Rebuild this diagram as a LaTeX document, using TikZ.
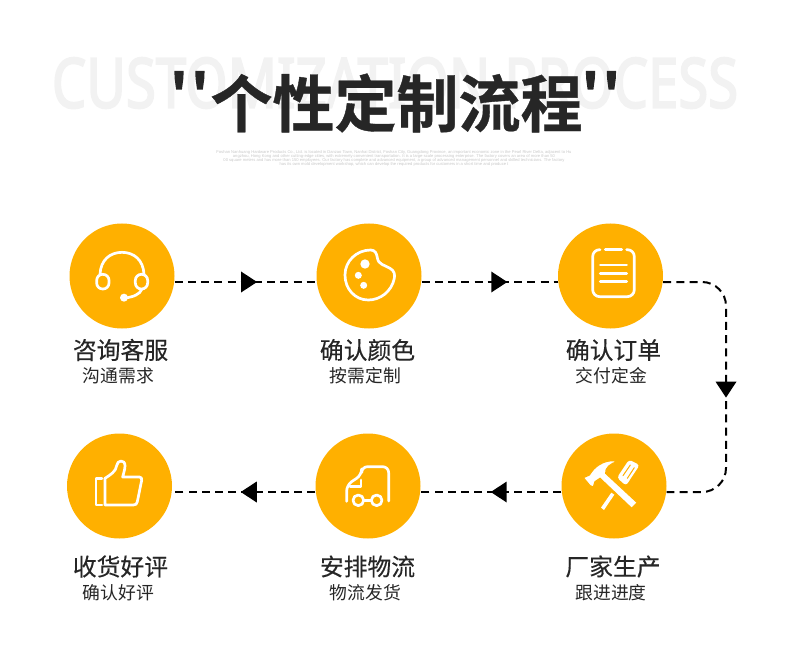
\documentclass[tikz,border=0pt]{standalone}
\usepackage{fontspec}
\usepackage{graphicx}
\usetikzlibrary{decorations.markings}
\newfontfamily\cjk[FakeBold=0.25]{Noto Sans CJK SC}
\newfontfamily\cjksub{Noto Sans CJK SC}
\newfontfamily\cjkb[FakeBold=0.6]{Noto Sans CJK SC Bold}
\newfontfamily\cjkq[FakeBold=5]{Noto Sans CJK SC Bold}
\newfontfamily\bgfont[FakeBold=3]{Noto Sans}
\newfontfamily\tinyfont{Liberation Sans}
\definecolor{amber}{HTML}{FFB000}
\definecolor{ink}{HTML}{262626}
\tikzset{
  stepdot/.style={circle,fill=amber,minimum size=105pt,inner sep=0pt},
  headlabel/.style={font=\cjk\fontsize{23.8}{26}\selectfont,text=ink,inner sep=0pt},
  sublabel/.style={font=\cjksub\fontsize{17.8}{20}\selectfont,text=ink,inner sep=0pt},
  quotemark/.style={inner sep=0pt,text=ink,font=\cjkq\fontsize{46}{50}\selectfont},
  flow/.style={line width=2pt,dash pattern=on 8pt off 5.2pt,black},
  flowtip/.style={postaction={decorate,decoration={markings,mark=at position #1 with {\fill[black,sharp corners,solid] (-8pt,-10.5pt)--(8pt,0pt)--(-8pt,10.5pt)--cycle;}}}},
  offs/.style={yshift=-6pt},
  icon/.style={white,line width=2.7pt,line cap=round,line join=round},
}
\begin{document}
\begin{tikzpicture}[x=1pt,y=-1pt]
\useasboundingbox (0,0) rectangle (790,671);
% heading
\node[inner sep=0pt,text=black!5] (bgtitle) at (395,83) {\resizebox{686pt}{50pt}{\bgfont CUSTOMIZATION PROCESS}};
\node[inner sep=0pt,text=ink,font=\cjkb\fontsize{62}{66}\selectfont] (title) at (396.5,103) {个性定制流程};
\node[quotemark] (ql) at (189.5,90) {'\kern6pt'};
\node[quotemark] (qr) at (601,90) {'\kern6pt'};
\node[inner sep=0pt,align=center,text=black!22,font=\tinyfont\fontsize{4.1}{4.2}\selectfont] (blurb) at (394,158.5) {Foshan Nanhuang Hardware Products Co., Ltd. is located in Danzao Town, Nanhai District, Foshan City, Guangdong Province, an important economic zone in the Pearl River Delta, adjacent to Hu\\angzhou, Hong Kong and other cutting-edge cities, with extremely convenient transportation. It is a large-scale processing enterprise. The factory covers an area of more than 50\\00 square meters and has more than 150 employees. Our factory has complete and advanced equipment, a group of advanced management personnel and skilled technicians. The factory\\has its own mold development workshop, which can develop the required products for customers in a short time and produce t};
% connectors
\node[stepdot] (n1) at (122,276) {};
\node[stepdot] (n2) at (369,276) {};
\node[stepdot] (n3) at (610.5,276) {};
\node[stepdot] (n4) at (614,486) {};
\node[stepdot] (n5) at (368,486) {};
\node[stepdot] (n6) at (119.5,486) {};
\coordinate (ctop) at (726,282);
\coordinate (cbot) at (726,492);
\draw[flow,flowtip=.525] ([offs]n1.east) -- ([offs]n2.west);
\draw[flow,flowtip=.57] ([offs]n2.east) -- ([offs]n3.west);
\draw[flow,flowtip=.514,rounded corners=24pt] ([offs]n3.east) -- (ctop) -- (cbot) -- ([offs]n4.east);
\draw[flow,flowtip=.445] ([offs]n4.west) -- ([offs]n5.east);
\draw[flow,flowtip=.465] ([offs]n5.west) -- ([offs]n6.east);
% labels
\node[headlabel] (h1) at (120.5,350) {咨询客服};
\node[sublabel] (s1) at (118.5,376) {沟通需求};
\node[headlabel] (h2) at (367.5,350) {确认颜色};
\node[sublabel] (s2) at (365.5,376) {按需定制};
\node[headlabel] (h3) at (613.5,350) {确认订单};
\node[sublabel] (s3) at (611.5,376) {交付定金};
\node[headlabel] (h4) at (613,566.5) {厂家生产};
\node[sublabel] (s4) at (611,593) {跟进进度};
\node[headlabel] (h5) at (367.5,566.5) {安排物流};
\node[sublabel] (s5) at (365.5,593) {物流发货};
\node[headlabel] (h6) at (120.5,566.5) {收货好评};
\node[sublabel] (s6) at (118.5,593) {确认好评};
% headset
\begin{scope}[shift={(60,215)},scale=1/3,icon]
\draw (120,178) .. controls (122,135) and (150,112) .. (186,112) .. controls (222,112) and (250,135) .. (252,178);
\draw[rounded corners=6pt] (110,178) rectangle (147,222);
\draw[rounded corners=6pt] (226,178) rectangle (263,222);
\draw (246,222) .. controls (240,238) and (220,246) .. (195,249);
\fill[white,draw=none] (192,248) circle (12);
\end{scope}
% cookie
\begin{scope}[shift={(60,215)},scale=1/3,icon]
\draw (932,105) .. controls (945,105) and (950,115) .. (952,128) .. controls (955,150) and (975,150) .. (990,160) .. controls (1003,167) and (1005,178) .. (1003,190) .. controls (995,230) and (960,255) .. (925,255) .. controls (885,255) and (855,222) .. (855,180) .. controls (855,138) and (890,105) .. (932,105) -- cycle;
\fill[white,draw=none] (915,147) circle (14);
\fill[white,draw=none] (895,181) circle (10.5);
\fill[white,draw=none] (911,211) circle (10.5);
\end{scope}
% clipboard
\begin{scope}[shift={(550,215)},scale=1/3,icon]
\draw[rounded corners=7pt] (150,104) -- (128,104) -- (128,245) -- (253,245) -- (253,104) -- (230,104);
\draw (166,104) -- (215,104);
\draw (151,150) -- (230,150);
\draw (151,175) -- (230,175);
\draw (151,200) -- (230,200);
\end{scope}
% hammer and screwdriver
\begin{scope}[shift={(550,425)},scale=1/3,icon]
\fill[white,draw=none] (153,248) -- (184,203) -- (193,209) -- (162,255) -- cycle;
\fill[white,draw=none,rounded corners=3pt] (201,158) -- (237,104) -- (269,120) -- (228,182) -- cycle;
\draw[amber,line width=1pt] (219,152) -- (241,120);
\draw[amber,line width=1pt] (232,160) -- (253,128);
\draw[fill=white,draw=amber,line width=1.2pt,line join=miter] (100,158) -- (118,150) -- (125,140) .. controls (140,118) and (175,100) .. (203,110) .. controls (180,115) and (165,130) .. (167,145) -- (262,233) -- (245,250) -- (150,160) -- (135,170) -- (130,186) -- (120,182) -- cycle;
\end{scope}
% truck
\begin{scope}[shift={(60,425)},scale=1/3,icon]
\draw[rounded corners=6pt] (860,229) -- (860,180) -- (905,150) -- (905,125) -- (986,125) -- (986,228);
\draw (870,185) -- (903,185) -- (903,165);
\draw (895,226) circle (16);
\draw (950,226) circle (16);
\draw (911,226) -- (934,226);
\end{scope}
% thumb
\begin{scope}[shift={(60,425)},scale=1/3,icon]
\draw (126,160) -- (108,160) -- (108,240) -- (126,240);
\draw[line join=round] (135,240) -- (135,160) .. controls (150,150) and (168,140) .. (170,122) .. controls (171,105) and (195,102) .. (195,122) .. controls (195,135) and (190,145) .. (188,156) -- (238,156) .. controls (244,156) and (246,160) .. (245,166) -- (232,230) .. controls (231,237) and (227,240) .. (220,240) -- cycle;
\end{scope}
\end{tikzpicture}
\end{document}
